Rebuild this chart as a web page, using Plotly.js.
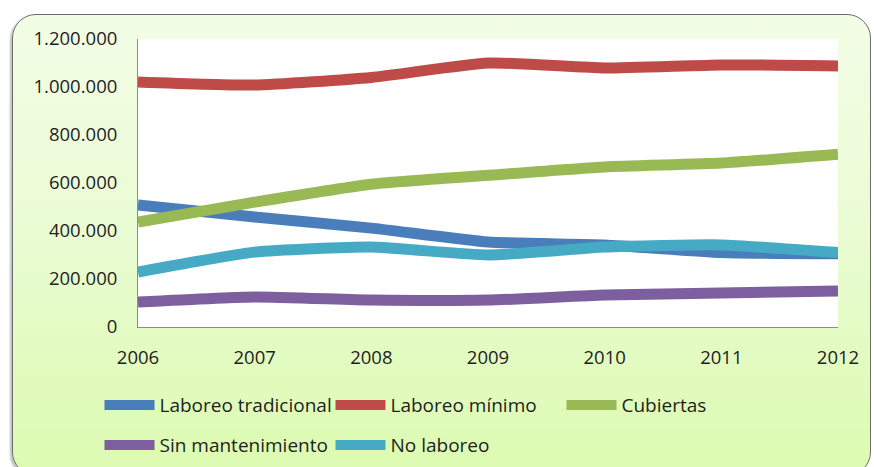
<!DOCTYPE html>
<html><head><meta charset="utf-8">
<script src="https://cdn.plot.ly/plotly-3.0.1.min.js"></script>
<style>
html,body{margin:0;padding:0;background:#fff;}
#frame{position:absolute;left:12px;top:14px;width:857px;height:460px;border:1.5px solid #6b6b6b;border-radius:24px;
background:linear-gradient(to bottom,#f3fde6 0%,#eafcd4 45%,#dcfbb0 100%);box-shadow:-2px 2px 2px rgba(0,0,0,0.25);}
#chart{position:absolute;left:0;top:0;width:874px;height:467px;}
</style></head>
<body>
<div id="frame"></div>
<div id="chart"></div>
<script>
var years = [2006, 2007, 2008, 2009, 2010, 2011, 2012];
var laboreoTradicional = [508000, 458000, 412000, 354000, 342000, 310000, 305000];
var laboreoMinimo = [1021000, 1008000, 1040000, 1100000, 1079000, 1092000, 1088000];
var cubiertas = [437000, 520000, 595000, 632000, 667000, 683000, 720000];
var sinMantenimiento = [104000, 125000, 112000, 112000, 133000, 142000, 150000];
var noLaboreo = [229000, 312000, 333000, 300000, 333000, 342000, 310000];
var seriesNames = ["Laboreo tradicional", "Laboreo mínimo", "Cubiertas", "Sin mantenimiento", "No laboreo"];
var yTicks = [0, 200000, 400000, 600000, 800000, 1000000, 1200000];

var colors = ["#4a7ebb", "#be4b48", "#98b954", "#7d5fa0", "#46aac5"];
var data = [laboreoTradicional, laboreoMinimo, cubiertas, sinMantenimiento, noLaboreo];
var traces = data.map(function (vals, i) {
  return {
    x: years, y: vals, name: seriesNames[i], type: "scatter", mode: "lines",
    line: {color: colors[i], width: 11, shape: "spline", smoothing: 0.5},
    legend: i < 3 ? "legend" : "legend2", hoverinfo: "skip"
  };
});
var font = {family: "Open Sans, sans-serif", size: 18.5, color: "#1e1e1e"};
var legFont = {family: "Open Sans, sans-serif", size: 19, color: "#1e1e1e"};
var layout = {
  width: 874, height: 467,
  margin: {l: 138, r: 36, t: 39, b: 140, autoexpand: false},
  paper_bgcolor: "rgba(0,0,0,0)", plot_bgcolor: "#ffffff",
  separators: ",.",
  font: font,
  showlegend: true,
  xaxis: {range: [2006, 2012], tickvals: years, showgrid: false, zeroline: false, automargin: false,
    showline: true, linecolor: "#8c8c8c", linewidth: 1, ticks: "", ticklabelstandoff: 14, tickfont: font},
  yaxis: {range: [0, 1200000], tickvals: yTicks, tickformat: ",d", showgrid: false, zeroline: false, automargin: false,
    showline: true, linecolor: "#8c8c8c", linewidth: 1, ticks: "", ticklabelstandoff: 16, tickfont: font},
  legend: {orientation: "h", x: -0.055, xanchor: "left", y: -0.271, yanchor: "middle",
    entrywidth: 166, entrywidthmode: "pixels", bgcolor: "rgba(0,0,0,0)", font: legFont, itemwidth: 50, traceorder: "normal"},
  legend2: {orientation: "h", x: -0.055, xanchor: "left", y: -0.41, yanchor: "middle",
    entrywidth: 166, entrywidthmode: "pixels", bgcolor: "rgba(0,0,0,0)", font: legFont, itemwidth: 50, traceorder: "normal"}
};
Plotly.newPlot("chart", traces, layout, {displayModeBar: false, staticPlot: true});
</script>
</body></html>
